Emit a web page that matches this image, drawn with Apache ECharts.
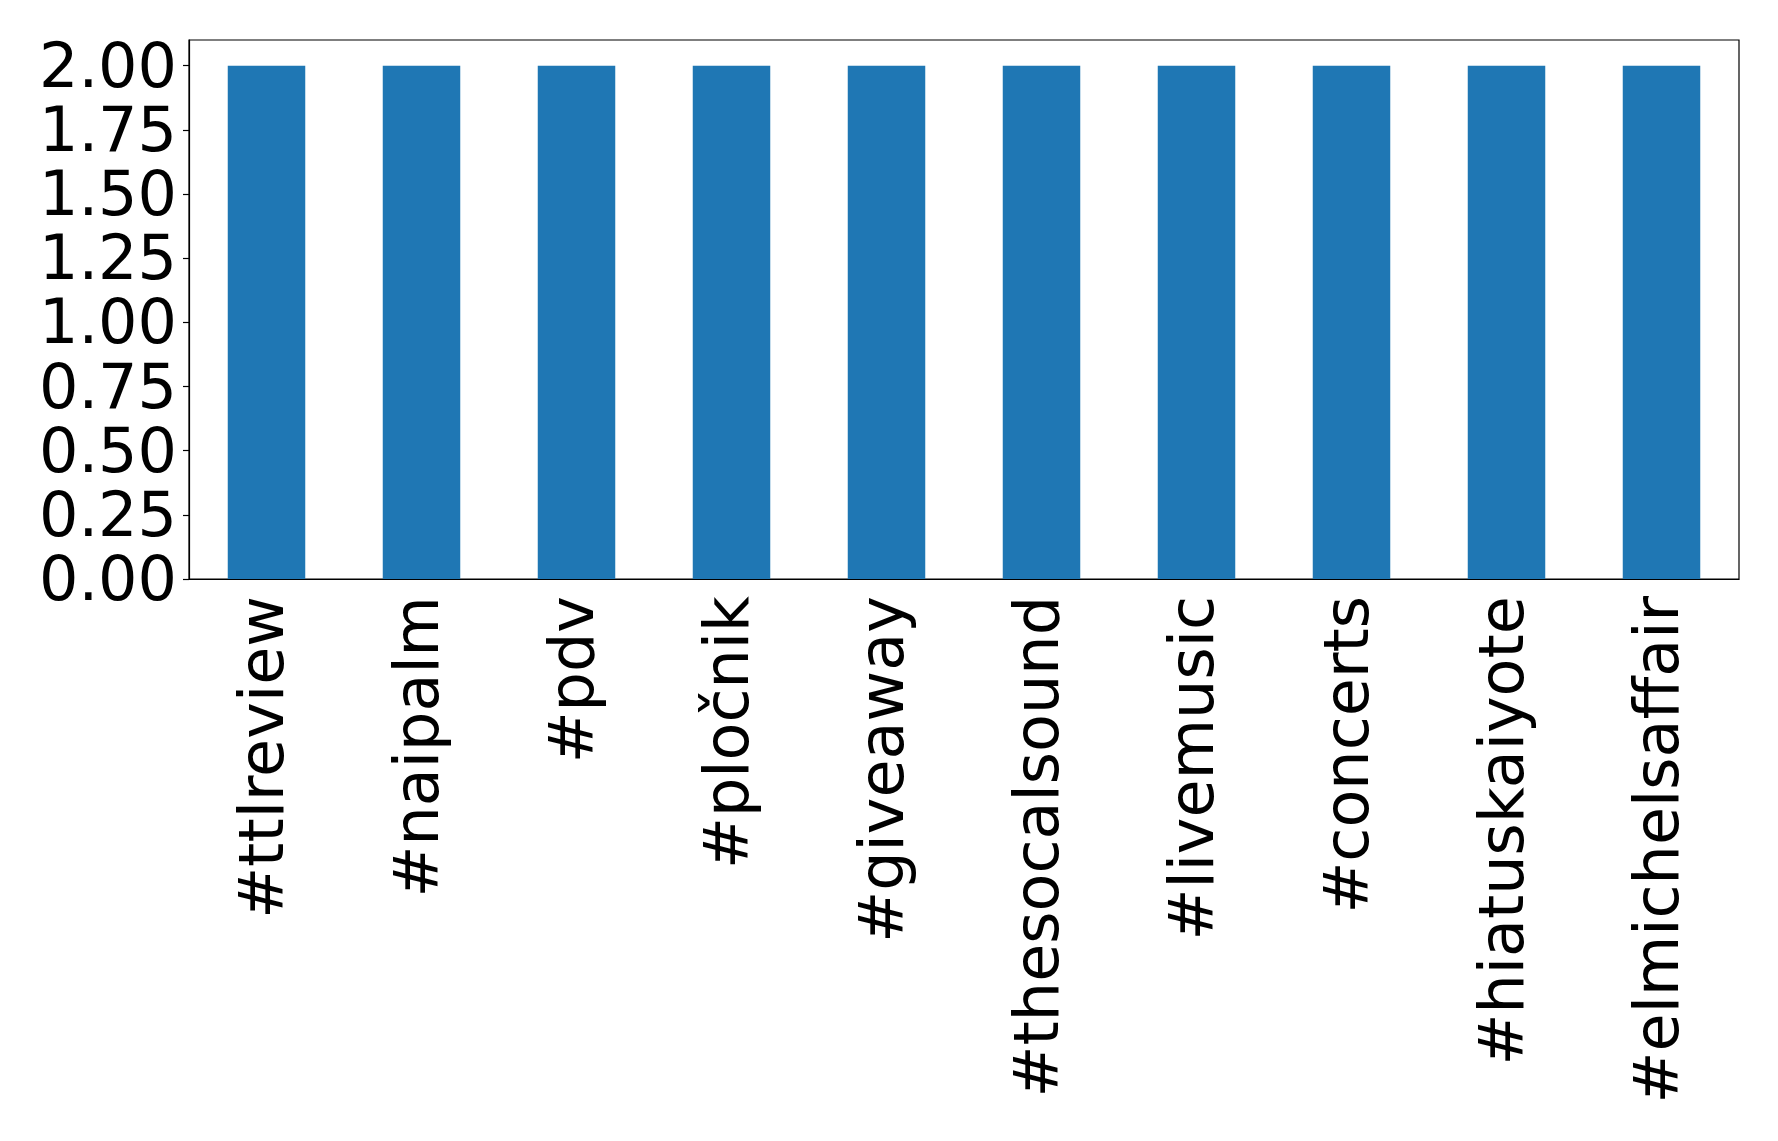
<!DOCTYPE html>
<html>
<head>
<meta charset="utf-8">
<script src="https://cdn.jsdelivr.net/npm/echarts@6/dist/echarts.min.js"></script>
<style>
html,body{margin:0;padding:0;background:#fff;}
#chart{width:1778px;height:1141px;}
</style>
</head>
<body>
<div id="chart"></div>
<script>
const categories = ['#ttlreview','#naipalm','#pdv','#pločnik','#giveaway','#thesocalsound','#livemusic','#concerts','#hiatuskaiyote','#elmichelsaffair'];
const counts = [2,2,2,2,2,2,2,2,2,2];
const yTicks = [0,0.25,0.5,0.75,1.0,1.25,1.5,1.75,2.0];

const chart = echarts.init(document.getElementById('chart'), null, {renderer:'canvas'});
const font = 'DejaVu Sans';
chart.setOption({
  animation:false,
  backgroundColor:'#fff',
  grid:{left:189,right:39,top:40,bottom:562,show:true,borderColor:'#000',borderWidth:1.2,containLabel:false},
  xAxis:{
    type:'category',
    data:categories,
    axisLine:{lineStyle:{color:'#000',width:1.2}},
    axisTick:{alignWithLabel:true,length:6,lineStyle:{color:'#000',width:1.2}},
    axisLabel:{rotate:90,fontSize:62,fontFamily:font,color:'#000',margin:17,interval:0}
  },
  yAxis:{
    type:'value',
    min:0,max:2.1,
    axisLine:{show:true,lineStyle:{color:'#000',width:1.2}},
    axisTick:{show:true,length:6,lineStyle:{color:'#000',width:1.2},customValues:yTicks},
    splitLine:{show:false},
    axisLabel:{fontSize:62,fontFamily:font,color:'#000',margin:12,customValues:yTicks,
      formatter:v=>'{a|'+v.toFixed(2)+'}',
      rich:{a:{fontSize:62,fontFamily:font,color:'#000',padding:[10,0,0,0]}}}
  },
  series:[{type:'bar',data:counts,barWidth:'50%',itemStyle:{color:'#1f77b4'}}]
});
</script>
</body>
</html>
